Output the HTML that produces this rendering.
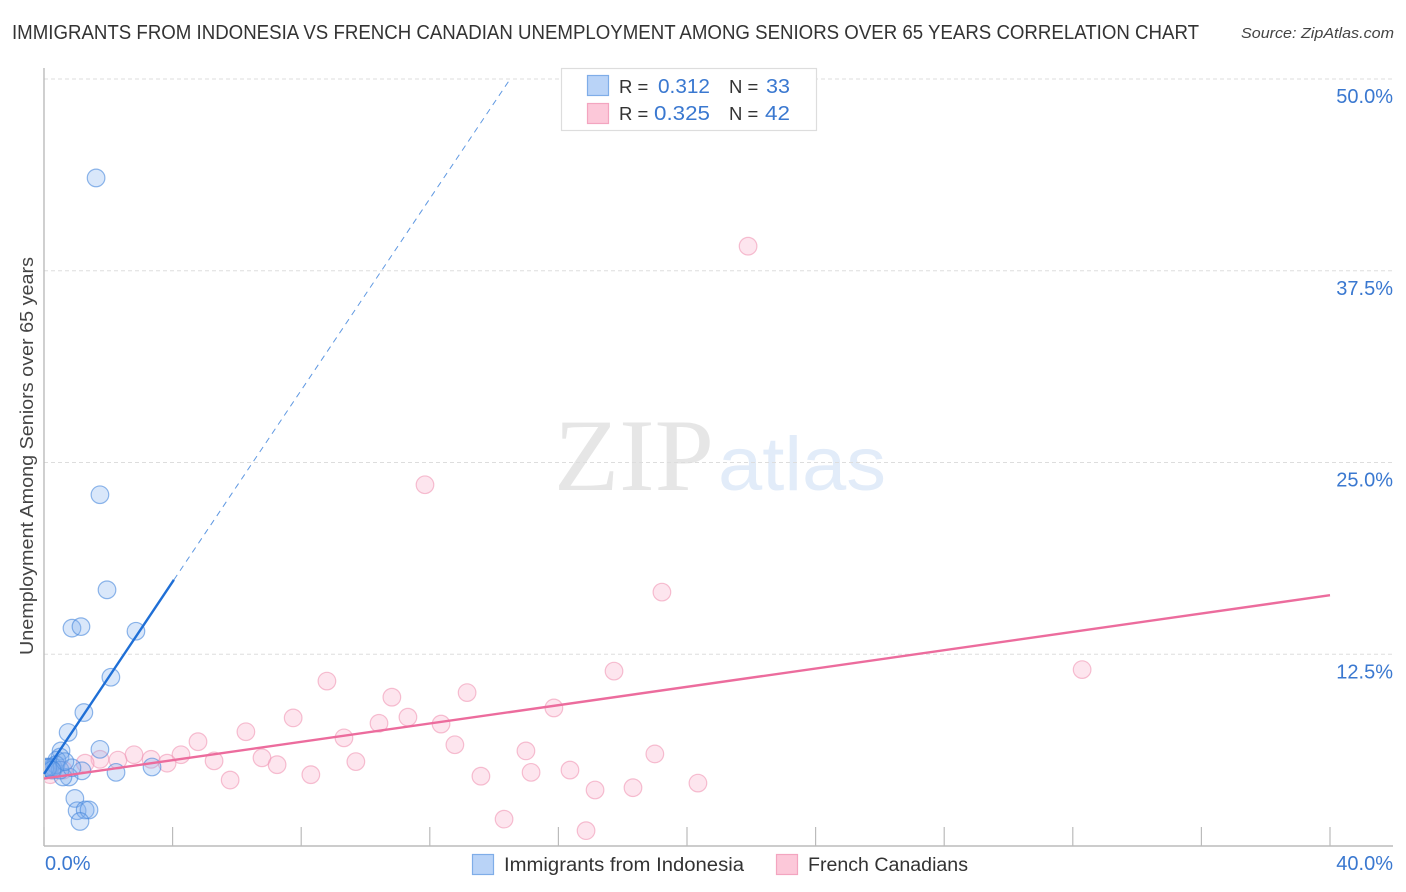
<!DOCTYPE html>
<html lang="en">
<head>
<meta charset="utf-8">
<title>Immigrants from Indonesia vs French Canadian Unemployment Among Seniors over 65 Years Correlation Chart</title>
<style>
html,body{margin:0;padding:0;background:#fff;width:1406px;height:892px;overflow:hidden}
svg{display:block;font-family:"Liberation Sans",sans-serif}
</style>
</head>
<body>
<svg id="chart" width="1406" height="892" viewBox="0 0 1406 892" xmlns="http://www.w3.org/2000/svg">
  <defs>
    <clipPath id="plot-clip"><rect x="45" y="60" width="1350" height="785"/></clipPath>
  </defs>
  <text x="12" y="39" font-size="20" fill="#333" textLength="1187" lengthAdjust="spacingAndGlyphs">IMMIGRANTS FROM INDONESIA VS FRENCH CANADIAN UNEMPLOYMENT AMONG SENIORS OVER 65 YEARS CORRELATION CHART</text>
  <text x="1241" y="38" font-size="15" font-style="italic" fill="#444" textLength="153" lengthAdjust="spacingAndGlyphs">Source: ZipAtlas.com</text>

  <g id="watermark">
    <text x="554" y="490" font-family="'Liberation Serif',serif" font-size="103" fill="#e6e6e6" textLength="160" lengthAdjust="spacingAndGlyphs">ZIP</text>
    <text x="718" y="490" font-size="76" fill="#e2ecf9" textLength="168" lengthAdjust="spacingAndGlyphs">atlas</text>
  </g>

  <g id="grid"></g>
  <g id="axes"></g>
  <g id="points" clip-path="url(#plot-clip)"></g>
  <g id="trends"></g>
  <g id="tick-labels"></g>

  <text transform="translate(33,456) rotate(-90)" text-anchor="middle" font-size="18" fill="#444" textLength="398" lengthAdjust="spacingAndGlyphs">Unemployment Among Seniors over 65 years</text>

  <g>
    <rect x="561.5" y="68.5" width="255" height="62" fill="#fff" stroke="#ddd" stroke-width="1.2"/>
    <rect x="587.5" y="75.5" width="21" height="20" fill="#b9d3f7" stroke="#7fade8" stroke-width="1.2"/>
    <rect x="587.5" y="103.5" width="21" height="20" fill="#fcc8d9" stroke="#f3a5c0" stroke-width="1.2"/>
    <text x="619" y="93" font-size="18.5" fill="#333">R =</text>
    <text x="658" y="93" font-size="20" fill="#3a78d0" textLength="52" lengthAdjust="spacingAndGlyphs">0.312</text>
    <text x="729" y="93" font-size="18.5" fill="#333">N =</text>
    <text x="766" y="93" font-size="20" fill="#3a78d0" textLength="24" lengthAdjust="spacingAndGlyphs">33</text>
    <text x="619" y="120" font-size="18.5" fill="#333">R =</text>
    <text x="654" y="120" font-size="20" fill="#3a78d0" textLength="56" lengthAdjust="spacingAndGlyphs">0.325</text>
    <text x="729" y="120" font-size="18.5" fill="#333">N =</text>
    <text x="765" y="120" font-size="20" fill="#3a78d0" textLength="25" lengthAdjust="spacingAndGlyphs">42</text>
  </g>

  <g>
    <g>
      <rect x="472.5" y="854.5" width="21" height="20" fill="#b9d3f7" stroke="#7fade8" stroke-width="1.2"/>
      <text x="504" y="871" font-size="19" fill="#333" textLength="240" lengthAdjust="spacingAndGlyphs">Immigrants from Indonesia</text>
    </g>
    <g>
      <rect x="776.5" y="854.5" width="21" height="20" fill="#fcc8d9" stroke="#f3a5c0" stroke-width="1.2"/>
      <text x="808" y="871" font-size="19" fill="#333" textLength="160" lengthAdjust="spacingAndGlyphs">French Canadians</text>
    </g>
  </g>
</svg>
<script>
var yGridValues = [12.5, 25, 37.5, 50];
var yTickLabels = ["12.5%", "25.0%", "37.5%", "50.0%"];
var xTickValues = [0, 4, 8, 12, 16, 20, 24, 28, 32, 36, 40];
var xEndValues = [0, 40];
var xEndLabels = ["0.0%", "40.0%"];

var indonesiaX = [1.62,1.74,1.96,0.87,1.15,2.86,2.08,1.24,0.75,1.74,0.53,0.50,2.24,3.36,1.18,0.78,0.59,0.40,0.19,0.09,0.28,0.37,0.50,0.87,0.96,1.03,1.28,1.40,1.12,0.65,0.03,0.12,0.25];
var indonesiaY = [43.55,22.9,16.7,14.2,14.3,14.0,11.0,8.7,7.4,6.3,6.2,5.8,4.8,5.15,4.9,4.5,4.5,5.6,5.15,5.15,5.15,5.3,4.95,5.1,3.1,2.3,2.35,2.35,1.6,5.5,5.1,5.1,4.95];

var frenchX = [21.9,11.85,19.22,32.29,17.73,8.8,10.82,13.16,15.86,7.75,11.32,10.42,12.35,6.28,9.33,4.79,12.78,14.99,19.0,4.26,2.8,2.3,1.74,3.33,3.83,1.28,5.29,6.78,7.25,9.7,16.36,15.15,13.59,8.3,5.79,20.34,18.32,17.14,14.31,16.86,0.19,0.6];
var frenchY = [39.1,23.55,16.55,11.5,11.4,10.75,9.7,10.0,9.0,8.35,8.4,8.0,7.95,7.45,7.05,6.8,6.6,6.2,6.0,5.95,5.95,5.6,5.65,5.65,5.4,5.4,5.55,5.75,5.3,5.5,4.95,4.8,4.55,4.65,4.3,4.1,3.8,3.65,1.75,1.0,4.65,4.95];

var indonesiaTrendSolidX = [0, 4.04];
var indonesiaTrendSolidY = [4.7, 17.35];
var indonesiaTrendDashedX = [4.04, 14.5];
var indonesiaTrendDashedY = [17.35, 50];
var frenchTrendX = [0, 40];
var frenchTrendY = [4.4, 16.35];

function xScale(v) { return 44 + v * (1286 / 40); }
function yScale(v) { return 846 - v * (767 / 50); }

var NS = "http://www.w3.org/2000/svg";
function make(tag, attrs, parent) {
  var el = document.createElementNS(NS, tag);
  for (var k in attrs) el.setAttribute(k, attrs[k]);
  parent.appendChild(el);
  return el;
}

var gridG = document.getElementById("grid");
var axesG = document.getElementById("axes");
var pointsG = document.getElementById("points");
var trendsG = document.getElementById("trends");
var labelsG = document.getElementById("tick-labels");

yGridValues.forEach(function (v, i) {
  var line = make("line", {x1: 44, x2: 1393, y1: yScale(v), y2: yScale(v), stroke: "#ddd", "stroke-width": 1, "stroke-dasharray": "4 3"}, gridG);
  
  
  var label = make("text", {x: 1393, y: yScale(v) + 24, "text-anchor": "end", "font-size": 20, fill: "#3a78d0"}, labelsG);
  label.textContent = yTickLabels[i];
  
  
});

var yAxis = make("line", {x1: 44, x2: 44, y1: 68, y2: 846, stroke: "#bbb", "stroke-width": 1.4}, axesG);


var xAxis = make("line", {x1: 44, x2: 1393, y1: 846, y2: 846, stroke: "#bbb", "stroke-width": 1.4}, axesG);



xTickValues.forEach(function (v) {
  var tick = make("line", {x1: xScale(v), x2: xScale(v), y1: 827, y2: 846, stroke: "#bbb", "stroke-width": 1.2}, axesG);
  
  
});

xEndValues.forEach(function (v, i) {
  var label = make("text", {x: i === 0 ? xScale(v) + 1 : 1393, y: 870, "text-anchor": i === 0 ? "start" : "end", "font-size": 20, fill: "#3a78d0"}, labelsG);
  label.textContent = xEndLabels[i];
  
  
});

frenchX.forEach(function (v, i) {
  var dot = make("circle", {cx: xScale(v), cy: yScale(frenchY[i]), r: 8.8, fill: "rgba(250,180,205,0.34)", stroke: "rgba(240,150,180,0.6)", "stroke-width": 1.2}, pointsG);
  
  
});

indonesiaX.forEach(function (v, i) {
  var dot = make("circle", {cx: xScale(v), cy: yScale(indonesiaY[i]), r: 8.8, fill: "rgba(130,175,240,0.3)", stroke: "rgba(70,135,220,0.6)", "stroke-width": 1.2}, pointsG);
  
  
});

var blueDash = make("line", {x1: xScale(indonesiaTrendDashedX[0]), y1: yScale(indonesiaTrendDashedY[0]), x2: xScale(indonesiaTrendDashedX[1]), y2: yScale(indonesiaTrendDashedY[1]), stroke: "#2a76d8", "stroke-width": 1, "stroke-dasharray": "6 5", opacity: 0.75}, trendsG);



var blueLine = make("line", {x1: xScale(indonesiaTrendSolidX[0]), y1: yScale(indonesiaTrendSolidY[0]), x2: xScale(indonesiaTrendSolidX[1]), y2: yScale(indonesiaTrendSolidY[1]), stroke: "#1f6fd6", "stroke-width": 2.4}, trendsG);



var pinkLine = make("line", {x1: xScale(frenchTrendX[0]), y1: yScale(frenchTrendY[0]), x2: xScale(frenchTrendX[1]), y2: yScale(frenchTrendY[1]), stroke: "#ec6c9d", "stroke-width": 2.4}, trendsG);


</script>
</body>
</html>
